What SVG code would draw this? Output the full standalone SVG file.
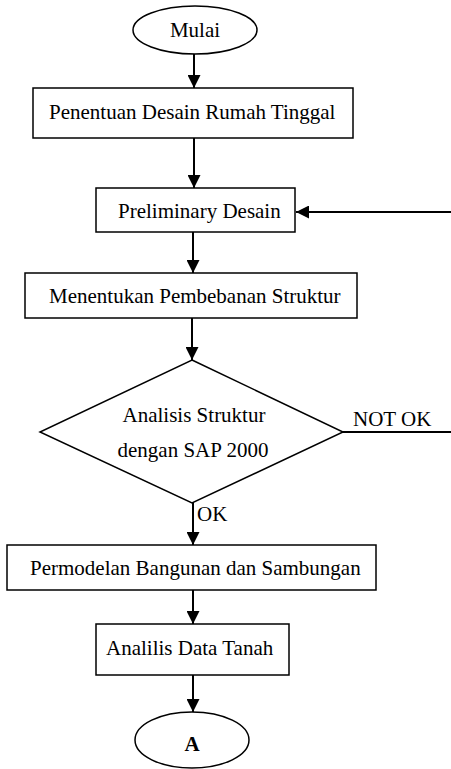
<svg xmlns="http://www.w3.org/2000/svg" width="451" height="769" viewBox="0 0 451 769">
<style>
.shape{fill:#fff;stroke:#000;stroke-width:1.5}
.conn{fill:none;stroke:#000;stroke-width:2}
.t{font-size:21px;fill:#000}
.c{text-anchor:middle}
.b{font-weight:bold}
</style>
<defs>
<marker id="ah" markerUnits="userSpaceOnUse" markerWidth="13" markerHeight="13" viewBox="0 0 13 13" refX="13" refY="6.5" orient="auto">
<path d="M0,0 L13,6.5 L0,13 Z" fill="#000"/>
</marker>
</defs>
<rect width="451" height="769" fill="#fff"/>
<g font-family="'Liberation Serif', 'Times New Roman', 'DejaVu Serif', serif">
<g id="connectors">
<line class="conn" x1="194" y1="54" x2="194" y2="88" marker-end="url(#ah)"/>
<line class="conn" x1="194" y1="138" x2="194" y2="188" marker-end="url(#ah)"/>
<line class="conn" x1="451" y1="212" x2="296" y2="212" marker-end="url(#ah)"/>
<line class="conn" x1="193" y1="232" x2="193" y2="273" marker-end="url(#ah)"/>
<line class="conn" x1="192" y1="318" x2="192" y2="360" marker-end="url(#ah)"/>
<line class="conn" x1="343" y1="432" x2="451" y2="432"/>
<line class="conn" x1="193" y1="503" x2="193" y2="545" marker-end="url(#ah)"/>
<line class="conn" x1="193" y1="590" x2="193" y2="624" marker-end="url(#ah)"/>
<line class="conn" x1="193" y1="675" x2="193" y2="712" marker-end="url(#ah)"/>
<text class="t" x="353" y="426">NOT OK</text>
<text class="t" x="197" y="521">OK</text>
</g>
<g id="mulai">
<ellipse class="shape" cx="195" cy="30" rx="62" ry="24"/>
<text class="t c" x="195" y="37">Mulai</text>
</g>
<g id="penentuan">
<rect class="shape" x="33" y="88" width="320" height="50"/>
<text class="t" x="49" y="119">Penentuan Desain Rumah Tinggal</text>
</g>
<g id="preliminary">
<rect class="shape" x="96" y="188" width="199" height="44"/>
<text class="t" x="118" y="218">Preliminary Desain</text>
</g>
<g id="pembebanan">
<rect class="shape" x="25" y="273" width="332" height="45"/>
<text class="t" x="49" y="303">Menentukan Pembebanan Struktur</text>
</g>
<g id="analisis">
<polygon class="shape" points="192,360 343,432 192,503 40,432"/>
<text class="t c" x="194" y="422">Analisis Struktur</text>
<text class="t c" x="193" y="457">dengan SAP 2000</text>
</g>
<g id="permodelan">
<rect class="shape" x="7" y="545" width="369" height="45"/>
<text class="t" x="30" y="575">Permodelan Bangunan dan Sambungan</text>
</g>
<g id="tanah">
<rect class="shape" x="96" y="624" width="193" height="51"/>
<text class="t" x="106" y="655">Analilis Data Tanah</text>
</g>
<g id="a">
<ellipse class="shape" cx="192" cy="740" rx="57" ry="28"/>
<text class="t c b" x="192" y="751">A</text>
</g>
</g>
</svg>
